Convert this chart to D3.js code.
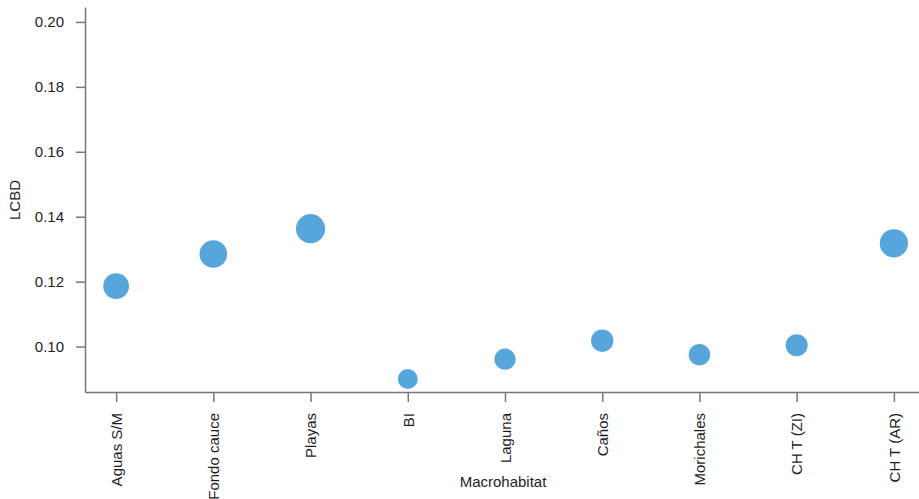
<!DOCTYPE html>
<html>
<head>
<meta charset="utf-8">
<script src="https://cdn.jsdelivr.net/npm/d3@7"></script>
<style>
  html, body { margin: 0; padding: 0; background: #fff; }
  svg { display: block; }
  text { font-family: "Liberation Sans", Arial, sans-serif; }
</style>
</head>
<body>
<svg id="chart" width="919" height="499"></svg>
<script>
const categories = ["Aguas S/M", "Fondo cauce", "Playas", "BI", "Laguna", "Caños", "Morichales", "CH T (ZI)", "CH T (AR)"];
const lcbdValues = [0.1186, 0.1285, 0.1363, 0.0900, 0.0961, 0.1018, 0.0975, 0.1004, 0.1318];
const yTicks = [0.10, 0.12, 0.14, 0.16, 0.18, 0.20];
const xTitle = "Macrohabitat";
const yTitle = "LCBD";

const data = categories.map((c, i) => ({ cat: c, v: lcbdValues[i] }));

const svg = d3.select("#chart");
const axisColor = "#777";
const textColor = "#1e1e1e";

const x = d3.scalePoint().domain(categories).range([85, 925]).padding(0.32);
const y = d3.scaleLinear().domain([0.086, 0.2046]).range([392, 7]);
const r = d3.scaleLinear().domain([0.09, 0.1363]).range([10, 14.6]);

// Y axis
const yAxis = svg.append("g")
  .attr("transform", "translate(85,0)")
  .call(d3.axisLeft(y).tickValues(yTicks).tickFormat(d3.format(".2f")).tickSize(9).tickPadding(12).tickSizeOuter(0));
yAxis.select(".domain").attr("stroke", axisColor).attr("stroke-width", 1.5);
yAxis.selectAll(".tick line").attr("stroke", axisColor).attr("stroke-width", 1.5);
yAxis.selectAll(".tick text").attr("fill", textColor).style("font-size", "15px");

// X axis
const xAxis = svg.append("g")
  .attr("transform", "translate(0,392)")
  .call(d3.axisBottom(x).tickSize(10).tickSizeOuter(0));
xAxis.select(".domain").attr("stroke", axisColor).attr("stroke-width", 1.5);
xAxis.selectAll(".tick line").attr("stroke", axisColor).attr("stroke-width", 1.5);
xAxis.selectAll(".tick text")
  .attr("fill", textColor)
  .style("font-size", "15px")
  .attr("transform", "rotate(-90)")
  .attr("text-anchor", "end")
  .attr("x", -21)
  .attr("y", 0)
  .attr("dy", "0.35em");

// Titles
svg.append("text")
  .attr("x", 503).attr("y", 487)
  .attr("text-anchor", "middle")
  .attr("fill", textColor)
  .style("font-size", "15px")
  .text(xTitle);

svg.append("text")
  .attr("transform", "translate(20,200) rotate(-90)")
  .attr("text-anchor", "middle")
  .attr("fill", textColor)
  .style("font-size", "15px")
  .text(yTitle);

// Points
svg.append("g").selectAll("circle")
  .data(data)
  .join("circle")
  .attr("cx", d => x(d.cat))
  .attr("cy", d => y(d.v))
  .attr("r", d => r(d.v))
  .attr("fill", "#56a6dc");
</script>
</body>
</html>
